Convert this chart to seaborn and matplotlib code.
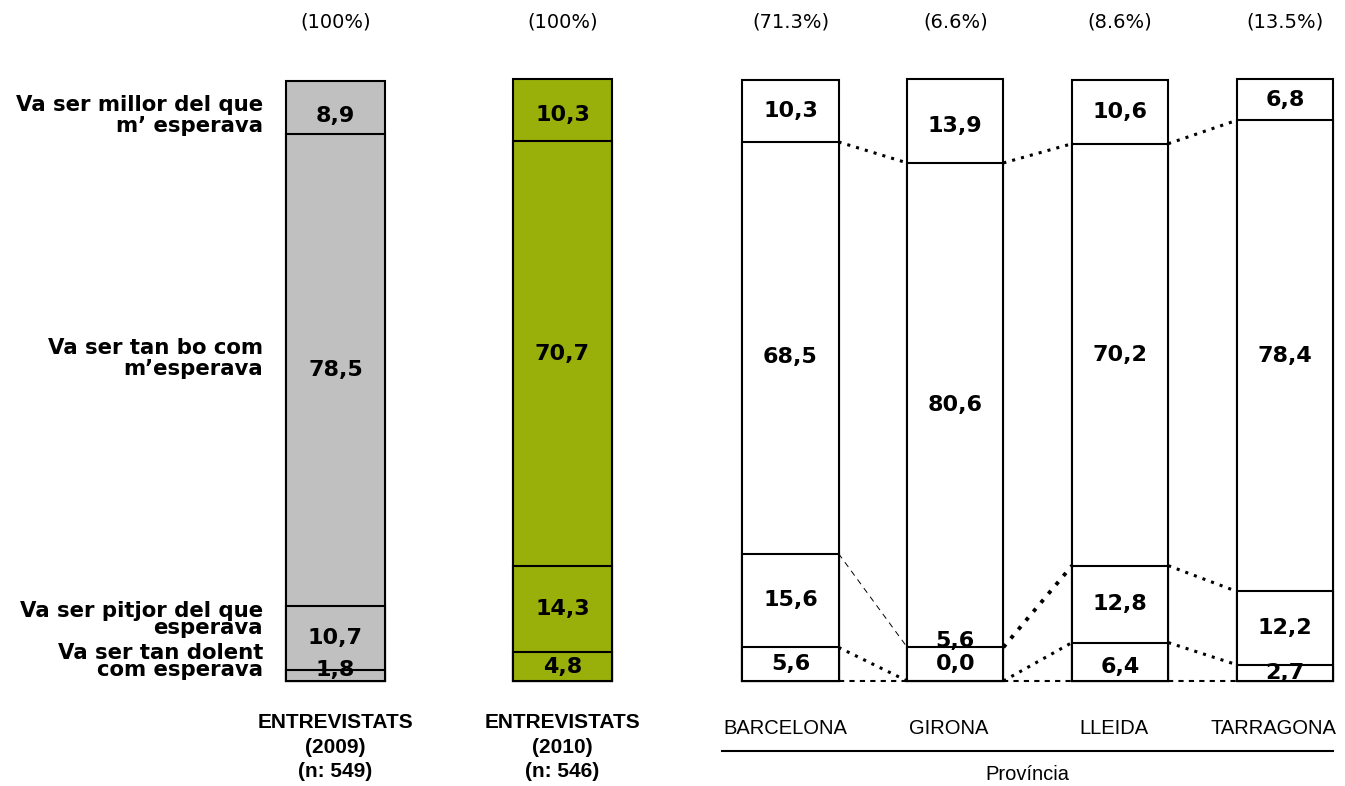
import numpy as np
import pandas as pd
import matplotlib.pyplot as plt
import seaborn as sns

# answer categories, bottom -> top of each stacked bar
answers = ['Va ser tan dolent\ncom esperava',
           'Va ser pitjor del que\nesperava',
           'Va ser tan bo com\nm\u2019esperava',
           'Va ser millor del que\nm\u2019 esperava']

# totals (interviewed people)
total_groups = ['ENTREVISTATS\n(2009)\n(n: 549)', 'ENTREVISTATS\n(2010)\n(n: 546)']
total_share = ['(100%)', '(100%)']
total_dolent = [1.8, 4.8]
total_pitjor = [10.7, 14.3]
total_bo = [78.5, 70.7]
total_millor = [8.9, 10.3]

# by province
provinces = ['BARCELONA', 'GIRONA', 'LLEIDA', 'TARRAGONA']
prov_share = ['(71.3%)', '(6.6%)', '(8.6%)', '(13.5%)']
prov_dolent = [5.6, 0.0, 6.4, 2.7]
prov_pitjor = [15.6, 5.6, 12.8, 12.2]
prov_bo = [68.5, 80.6, 70.2, 78.4]
prov_millor = [10.3, 13.9, 10.6, 6.8]

# layout
W, H = 1345, 786
answer_label_y = [3.2, 10.2, 53.7, 94.1]
answer_linespacing = [0.8, 0.85, 1.05, 1.05]
total_nudge = {(0, 0): 0.9, (0, 3): -1.5, (1, 3): -0.8}
prov_nudge = {(1, 0): 2.8, (1, 1): 3.9, (0, 2): -1.5, (1, 3): -0.8, (2, 0): -0.9}
prov_tick_shift = [-0.03, -0.04, -0.04, -0.07]


def fmt(v):
    return f'{v:.1f}'.replace('.', ',')


def draw_stack(ax, groups, segments, colors, width, nudge=None):
    # cumulative tops, drawn largest first so smaller ones sit on top
    cums = [np.zeros(len(groups))]
    for vals in segments:
        cums.append(cums[-1] + np.asarray(vals, dtype=float))
    for k in range(len(segments), 0, -1):
        sns.barplot(x=groups, y=cums[k], hue=groups, palette=colors, legend=False,
                    dodge=False, saturation=1, ax=ax, width=width,
                    edgecolor='black', linewidth=1.5, errorbar=None, clip_on=False)
    for k, vals in enumerate(segments):
        for i, v in enumerate(vals):
            y = cums[k][i] + v / 2
            if nudge:
                y += nudge.get((i, k), 0)
            ax.text(i, y, fmt(v), ha='center', va='center',
                    fontsize=16, fontweight='bold', family='DejaVu Sans')
    return cums


fig = plt.figure(figsize=(W / 100, H / 100), dpi=100)
ax1 = fig.add_axes([222 / W, 105 / H, 454 / W, 601 / H])
ax2 = fig.add_axes([732.8 / W, 105 / H, 609.8 / W, 601 / H])

draw_stack(ax1, total_groups,
           [total_dolent, total_pitjor, total_bo, total_millor],
           ['#C0C0C0', '#99B00B'], 0.436, nudge=total_nudge)
w2 = 0.583
cums = draw_stack(ax2, provinces,
                  [prov_dolent, prov_pitjor, prov_bo, prov_millor],
                  ['white'] * 4, w2, nudge=prov_nudge)

# connectors between province bars
dotted = dict(color='black', lw=2.2, ls=(0, (1, 2)))
for i in range(len(provinces) - 1):
    for k in range(4):
        style = dotted
        if k == 0:
            style = dict(color='black', lw=1.5, ls=(0, (2.5, 2.5)))
        elif i == 0 and k == 2:
            style = dict(color='black', lw=0.7, ls=(0, (6, 5)))
        elif i == 1 and k == 2:
            style = dict(color='black', lw=2.8, ls=(0, (1, 2)))
        ax2.plot([i + w2 / 2, i + 1 - w2 / 2], [cums[k][i], cums[k][i + 1]],
                 clip_on=False, **style)

for ax, shares in [(ax1, total_share), (ax2, prov_share)]:
    ax.set_ylim(0, 100)
    ax.set_yticks([])
    ax.set_ylabel('')
    ax.set_xlabel('')
    sns.despine(ax=ax, left=True, bottom=True)
    for i, s in enumerate(shares):
        ax.text(i, (681 - 22) / 601, s, transform=ax.get_xaxis_transform(),
                ha='center', va='center', fontsize=14, family='DejaVu Sans')

ax1.set_xlim(-0.5, 1.5)
ax2.set_xlim(-0.35, 3.35)

ax1.set_xticks(range(len(total_groups)), total_groups, fontsize=15,
               fontweight='bold', family='Liberation Sans', linespacing=1.38)
ax1.tick_params(axis='x', length=0, pad=23)
ax2.set_xticks(np.arange(len(provinces)) + np.array(prov_tick_shift), provinces,
               fontsize=14.5, family='Liberation Sans')
ax2.tick_params(axis='x', length=0, pad=27)

# answer labels at the left
for lab, y, ls in zip(answers, answer_label_y, answer_linespacing):
    ax1.text(-0.319, y, lab, ha='right', va='center', fontsize=15.3,
             fontweight='bold', family='DejaVu Sans', linespacing=ls,
             multialignment='right')

# province bracket
ax2.plot([-0.416, 3.29], [(681 - 751) / 601] * 2, color='black', lw=1.5,
         transform=ax2.get_xaxis_transform(), clip_on=False)
ax2.text(1.437, (681 - 775) / 601, 'Prov\u00edncia', transform=ax2.get_xaxis_transform(),
         ha='center', va='center', fontsize=14.5, family='Liberation Sans')

fig.savefig('out.png', dpi=100)
